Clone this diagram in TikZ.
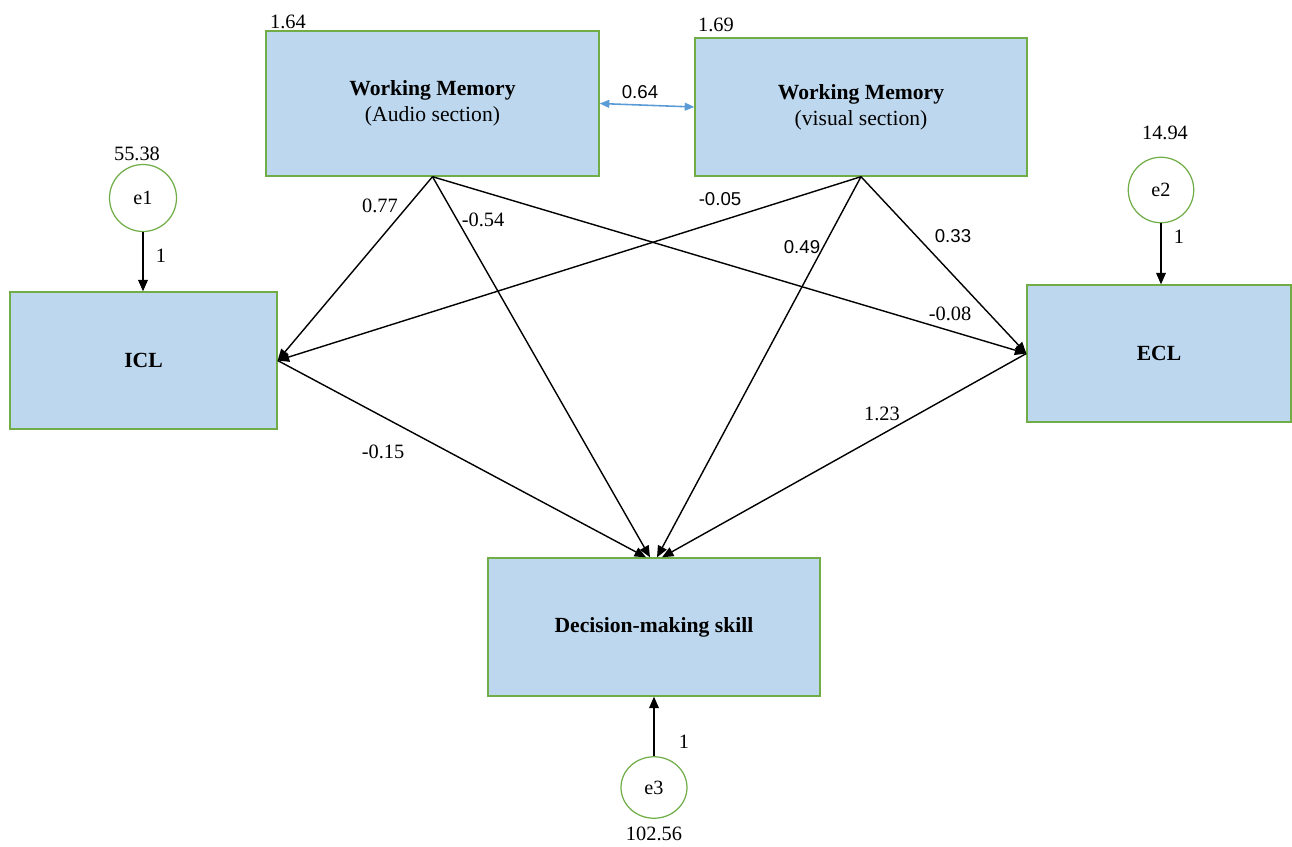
\documentclass[tikz,border=0pt]{standalone}
\usepackage{fontspec}
\setmainfont{Liberation Serif}
\newfontfamily\lblsans{Liberation Sans}
\usetikzlibrary{arrows.meta,shapes.geometric}
\definecolor{boxfill}{HTML}{BDD7EE}
\definecolor{boxline}{HTML}{70AD47}
\definecolor{covblue}{HTML}{5B9BD5}
\begin{document}
\begin{tikzpicture}[x=0.02cm,y=-0.02cm,
  var/.style={rectangle,draw=boxline,fill=boxfill,line width=0.8pt,inner sep=0pt,
    align=center,font=\fontsize{12.3}{14.8}\selectfont},
  err/.style={circle,draw=boxline,line width=0.7pt,inner sep=0pt,minimum size=1.34cm,
    font=\fontsize{11.5}{13}\selectfont},
  lbl/.style={inner sep=0pt,font=\fontsize{11.6}{13}\selectfont},
  lbls/.style={inner sep=0pt,font=\lblsans\fontsize{10.6}{12}\selectfont},
  path/.style={line width=0.8pt,-{Triangle[length=6.5pt,width=5.5pt]}},
  cov/.style={line width=0.9pt,covblue,{Triangle[length=5.5pt,width=4.5pt]}-{Triangle[length=5.5pt,width=4.5pt]}}
]
\useasboundingbox (0,0) rectangle (1292,846);

% boxes
\node[var,minimum width=6.66cm,minimum height=2.90cm] (wma) at (432.5,103.5)
  {\textbf{Working Memory}\\(Audio section)};
\node[var,minimum width=6.64cm,minimum height=2.76cm] (wmv) at (861,107)
  {\textbf{Working Memory}\\(visual section)};
\node[var,minimum width=5.34cm,minimum height=2.74cm] (icl) at (143.5,360.5)
  {\textbf{ICL}};
\node[var,minimum width=5.28cm,minimum height=2.74cm] (ecl) at (1159,353.5)
  {\textbf{ECL}};
\node[var,minimum width=6.64cm,minimum height=2.76cm] (dm) at (654,627)
  {\textbf{Decision-making skill}};

% error terms
\node[err] (e1) at (143,198) {e1};
\node[err,minimum size=1.31cm] (e2) at (1161,190) {e2};
\node[err,ellipse,minimum width=1.32cm,minimum height=1.23cm] (e3) at (654,787.5) {e3};

% variance labels
\node[lbl] (v1) at (288,22) {1.64};
\node[lbl] (v2) at (716,25) {1.69};
\node[lbl] (v3) at (137,154) {55.38};
\node[lbl] (v4) at (1165,133) {14.94};
\node[lbl] (v5) at (654,834) {102.56};

% error paths
\draw[path] (e1.south) -- (e1.south |- icl.north);
\draw[path] (e2.south) -- (e2.south |- ecl.north);
\draw[path] (e3.north) -- (dm.south);
\node[lbl] (o1) at (161,256) {1};
\node[lbl] (o2) at (1179,237) {1};
\node[lbl] (o3) at (684,742) {1};

% covariance
\draw[cov] (wma.east) -- (wmv.west);
\node[lbls] (c1) at (640,92) {0.64};

% structural paths
\draw[path] (wma.south) -- (icl.east);
\draw[path] (wma.south) -- ([xshift=-0.08cm]dm.north);
\draw[path] (wma.south) -- (ecl.west);
\draw[path] (wmv.south) -- (icl.east);
\draw[path] (wmv.south) -- ([xshift=0.06cm]dm.north);
\draw[path] (wmv.south) -- (ecl.west);
\draw[path] (icl.east) -- ([xshift=-0.16cm]dm.north);
\draw[path] (ecl.west) -- ([xshift=0.16cm]dm.north);

% path labels
\node[lbl] (p1) at (380,206) {0.77};
\node[lbl] (p2) at (483,220) {-0.54};
\node[lbls] (p3) at (720,199) {-0.05};
\node[lbls] (p4) at (802,247) {0.49};
\node[lbls] (p5) at (953,236) {0.33};
\node[lbl] (p6) at (950,314) {-0.08};
\node[lbl] (p7) at (383,452) {-0.15};
\node[lbl] (p8) at (882,414) {1.23};
\end{tikzpicture}
\end{document}
